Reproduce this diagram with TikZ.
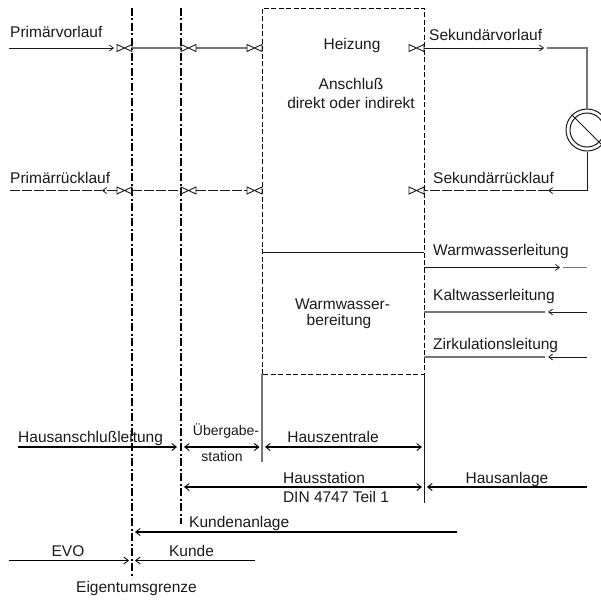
\documentclass[tikz,border=0pt]{standalone}
\usepackage{fontspec}
\setmainfont{Liberation Sans}
\usetikzlibrary{arrows.meta}
\definecolor{ink}{HTML}{1A1A1A}
\definecolor{soft}{HTML}{777777}
\tikzset{
  lbl/.style={font=\fontsize{15.5}{17}\selectfont,text=ink,inner sep=0pt,anchor=base west},
  lblc/.style={font=\fontsize{15.5}{17}\selectfont,text=ink,inner sep=0pt,anchor=base},
  lbls/.style={font=\fontsize{14}{15}\selectfont,text=ink,inner sep=0pt,anchor=base},
  tip/.style={-{Straight Barb[length=4pt,width=6pt,line width=0.8pt]}},
  pipe/.style={draw=ink,line width=0.9pt},
  pipegray/.style={draw=soft,line width=1.1pt},
  retpipe/.style={draw=ink,line width=0.9pt,dash pattern=on 10pt off 2pt},
  bound/.style={draw=black,line width=1.8pt,dash pattern=on 8pt off 2.5pt on 2pt off 2.5pt},
  boxedge/.style={draw=black,line width=0.9pt,dash pattern=on 5pt off 2.5pt},
  solidedge/.style={draw=ink,line width=1pt},
  span/.style={draw=black,line width=1.7pt},
  thin span/.style={draw=black,line width=0.9pt},
  spantip/.style={{Straight Barb[length=4.5pt,width=7pt,line width=0.9pt]}-{Straight Barb[length=4.5pt,width=7pt,line width=0.9pt]}},
  valve/.pic={\draw[draw=ink,line width=0.9pt,line join=miter] (-7.5,-3.5)--(-7.5,3.5)--(7.5,-3.5)--(7.5,3.5)--cycle;}
}
\begin{document}
\begin{tikzpicture}[x=1pt,y=-1pt]
\useasboundingbox (0,0) rectangle (601,599);
\clip (0,0) rectangle (601,599);
% anchors
\coordinate (a1) at (9,48); \coordinate (a1e) at (114,48);
\coordinate (v1) at (124.5,48); \coordinate (v2) at (188.5,48); \coordinate (v3) at (254.5,48); \coordinate (v4) at (416.5,48);
\coordinate (r1) at (10,190.5); \coordinate (r1e) at (102,190.5);
\coordinate (w1) at (124.5,190.5); \coordinate (w2) at (188.5,190.5); \coordinate (w3) at (254.5,190.5); \coordinate (w4) at (416.5,190.5);
\coordinate (bt1) at (132,8); \coordinate (bb1) at (132,578);
\coordinate (bt2) at (181,8); \coordinate (bb2) at (181,524);
\coordinate (tl) at (262,8); \coordinate (tr) at (424,8);
\coordinate (ml) at (262,374); \coordinate (mr) at (424,374);
\coordinate (sl) at (262,462); \coordinate (sr) at (424,503);
\coordinate (hl) at (262,252); \coordinate (hr) at (424,252);
% boundaries and box
\draw[bound] (bt1) -- (bb1);
\draw[bound] (bt2) -- (bb2);
\draw[boxedge] (ml) -- (tl) -- (tr) -- (mr) -- cycle;
\draw[draw=soft,line width=1.2pt] (ml) -- (sl);
\draw[solidedge] (mr) -- (sr);
\draw[solidedge] (hl) -- (hr);
% primary side
\draw[pipe,tip] (a1) -- (a1e);
\draw[pipegray] (132,48) -- (181,48);
\draw[pipegray] (196,48) -- (247,48);
\draw[retpipe,tip] (117,190.5) -- (102,190.5);
\draw[retpipe] (r1) -- (r1e);
\draw[retpipe] (132,190.5) -- (181,190.5);
\draw[retpipe] (196,190.5) -- (247,190.5);
\foreach \v in {v1,v2,v3,v4,w1,w2,w3,w4} \path (\v) pic {valve};
% secondary side
\coordinate (p) at (587,130);
\node[circle,draw=ink,line width=1pt,minimum size=42pt,inner sep=0pt] (pump) at (p) {};
\node[circle,draw=ink,line width=1pt,minimum size=34pt,inner sep=0pt] (pumpi) at (p) {};
\draw[line width=1pt,draw=ink] (pump.135) -- (pump.-45);
\coordinate (s1) at (424,48); \coordinate (s1e) at (544,48); \coordinate (s1g) at (547,48); \coordinate (c1) at (587,48);
\draw[pipe,tip] (s1) -- (s1e);
\draw[pipegray] (s1g) -- (c1) -- (pump.north);
\coordinate (c2) at (587,190.5); \coordinate (s2) at (424,190.5); \coordinate (s2a) at (548,190.5);
\draw[pipe,tip] (pump.south) -- (c2) -- (s2a);
\draw[retpipe] (s2a) -- (s2);
\coordinate (ww1) at (424,267.5); \coordinate (ww2) at (560,267.5); \coordinate (ww3) at (563,267.5); \coordinate (ww4) at (587,267.5);
\draw[pipe,tip] (ww1) -- (ww2);
\draw[pipegray] (ww3) -- (ww4);
\coordinate (k1) at (587,312); \coordinate (k2) at (548,312); \coordinate (k3) at (545,312); \coordinate (k4) at (424,312);
\draw[pipe,tip] (k1) -- (k2);
\draw[pipegray] (k3) -- (k4);
\coordinate (z1) at (587,357); \coordinate (z2) at (548,357); \coordinate (z3) at (545,357); \coordinate (z4) at (424,357);
\draw[pipe,tip] (z1) -- (z2);
\draw[pipegray] (z3) -- (z4);
% spans
\coordinate (h1) at (18,447); \coordinate (h2) at (177,447);
\coordinate (h3) at (184,447); \coordinate (h4) at (259.5,447);
\coordinate (h5) at (265,447); \coordinate (h6) at (422,447);
\coordinate (t1) at (184,487); \coordinate (t2) at (422,487);
\coordinate (t3) at (427,487); \coordinate (t4) at (587,487);
\coordinate (k5) at (135,532); \coordinate (k6) at (457,532);
\coordinate (e1) at (9,560.5); \coordinate (e2) at (129,560.5);
\coordinate (e3) at (135,560.5); \coordinate (e4) at (255,560.5);
\draw[span,-{Straight Barb[length=4.5pt,width=7pt,line width=0.9pt]}] (h1) -- (h2);
\draw[span,spantip] (h3) -- (h4);
\draw[span,spantip] (h5) -- (h6);
\draw[span,spantip] (t1) -- (t2);
\draw[span,-{Straight Barb[length=4.5pt,width=7pt,line width=0.9pt]}] (t4) -- (t3);
\draw[span,-{Straight Barb[length=4.5pt,width=7pt,line width=0.9pt]}] (k6) -- (k5);
\draw[thin span,-{Straight Barb[length=4.5pt,width=7pt,line width=0.9pt]}] (e1) -- (e2);
\draw[thin span,-{Straight Barb[length=4.5pt,width=7pt,line width=0.9pt]}] (e4) -- (e3);
% labels
\node[lbl] (n1) at (10,38) {Primärvorlauf};
\node[lbl] (n2) at (10,183) {Primärrücklauf};
\node[lblc] (n3) at (352,49.5) {Heizung};
\node[lblc] (n4) at (351,89) {Anschluß};
\node[lblc] (n5) at (351,108) {direkt oder indirekt};
\node[lbl] (n6) at (429,41) {Sekundärvorlauf};
\node[lbl] (n7) at (433,183.5) {Sekundärrücklauf};
\node[lbl] (n8) at (433,255) {Warmwasserleitung};
\node[lbl] (n9) at (433,300) {Kaltwasserleitung};
\node[lbl] (n10) at (433,349) {Zirkulationsleitung};
\node[lblc] (n11) at (342.5,309) {Warmwasser-};
\node[lblc] (n12) at (339,325) {bereitung};
\node[lbl] (n13) at (18,442) {Hausanschlußleitung};
\node[lbls] (n14) at (226,435) {Übergabe-};
\node[lbls] (n15) at (222,461) {station};
\node[lblc] (n16) at (333,442) {Hauszentrale};
\node[lblc] (n17) at (324,483) {Hausstation};
\node[lblc] (n18) at (336,502) {DIN 4747 Teil 1};
\node[lblc] (n19) at (507,483) {Hausanlage};
\node[lbl] (n20) at (189,527) {Kundenanlage};
\node[lblc] (n21) at (68,556) {EVO};
\node[lblc] (n22) at (191.5,556) {Kunde};
\node[lblc] (n23) at (136.5,592) {Eigentumsgrenze};
\end{tikzpicture}
\end{document}
